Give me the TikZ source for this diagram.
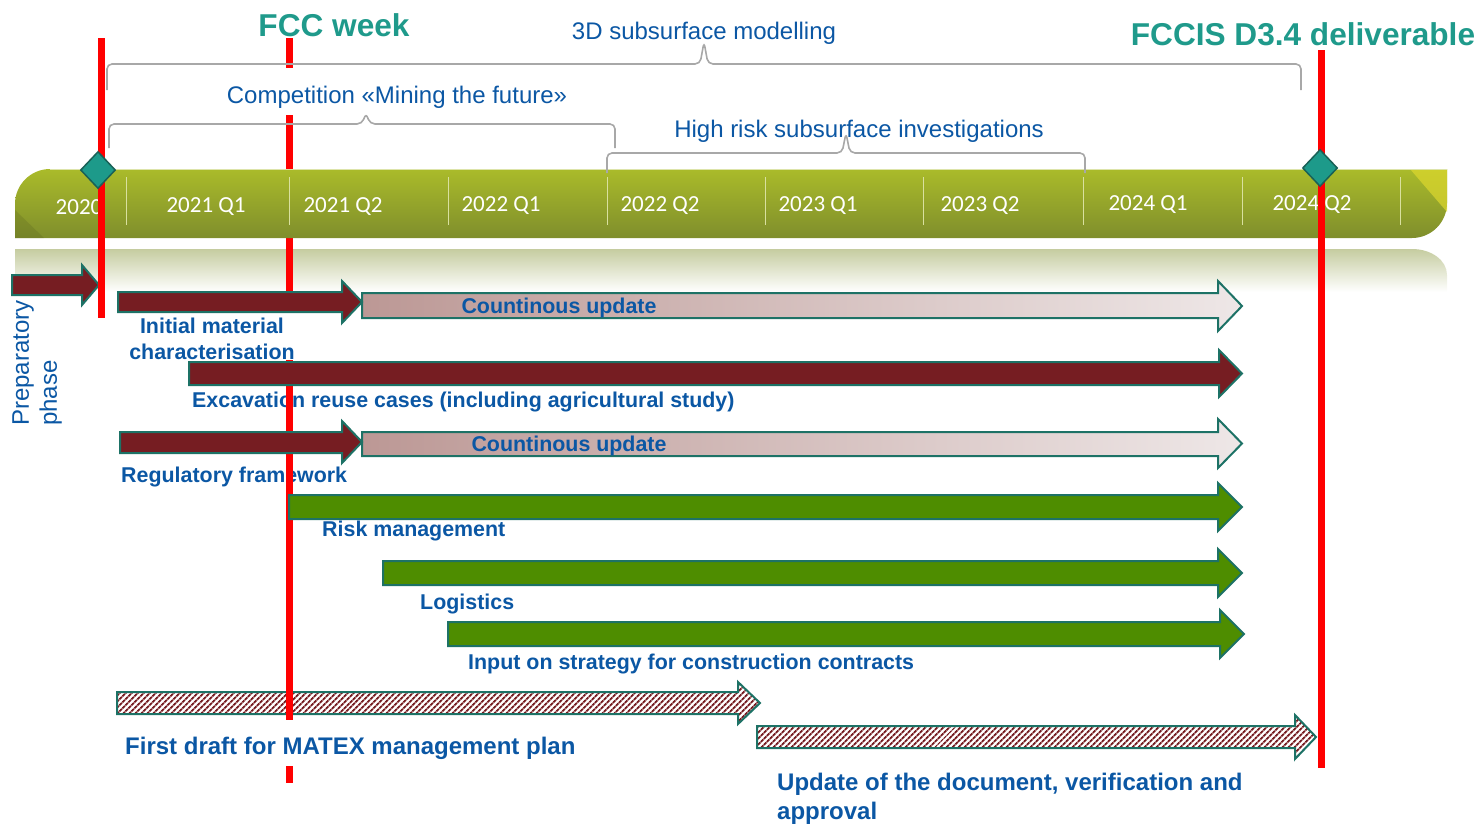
\documentclass[tikz,border=0pt]{standalone}
\usepackage{fontspec}
\setmainfont{Liberation Sans}
\newfontfamily\qfont{Carlito}
\usetikzlibrary{shapes.geometric, arrows, positioning, patterns.meta}

\definecolor{labblue}{HTML}{0B57A4}
\definecolor{titleteal}{HTML}{1F9A8B}
\definecolor{barred}{HTML}{761D22}
\definecolor{bargreen}{HTML}{4E8D00}
\definecolor{edgeteal}{HTML}{1D7266}
\definecolor{bracegray}{HTML}{A8A8A8}
\definecolor{olivetop}{HTML}{AABB2A}
\definecolor{olivebot}{HTML}{7F8E2C}
\definecolor{updleft}{HTML}{BC9895}
\definecolor{updright}{HTML}{EEE7E7}
\definecolor{milefill}{HTML}{1D9A8A}

\begin{document}
\begin{tikzpicture}[x=1pt,y=-1pt]
		\tikzstyle{qlabel} = [text=white, inner sep=0pt, font=\qfont\fontsize{23}{26}\selectfont]
		\tikzstyle{title} = [text=titleteal, inner sep=0pt, font=\bfseries\fontsize{31.6}{36}\selectfont]
		\tikzstyle{bracelab} = [text=labblue, inner sep=0pt, font=\fontsize{24}{28}\selectfont]
		\tikzstyle{tasklab} = [text=labblue, inner sep=0pt, anchor=west, font=\bfseries\fontsize{21.4}{25.5}\selectfont]
		\tikzstyle{biglab} = [text=labblue, inner sep=0pt, anchor=west, align=left, font=\bfseries\fontsize{24}{29}\selectfont]
		\tikzstyle{brace} = [draw=bracegray, line width=1.6pt, rounded corners=5pt]
		\tikzstyle{redline} = [red, line width=7pt]
		\tikzstyle{redarrow} = [fill=barred, draw=edgeteal, line width=2pt]
		\tikzstyle{greenarrow} = [fill=bargreen, draw=edgeteal, line width=2pt]
		\tikzstyle{updarrow} = [left color=updleft, right color=updright, draw=edgeteal, line width=2pt]
		\tikzstyle{hatcharrow} = [pattern={Lines[angle=45, distance=4pt, line width=2pt]}, pattern color=barred, draw=edgeteal, line width=2pt]
		\tikzstyle{milestone} = [diamond, minimum width=35pt, minimum height=37pt, inner sep=0pt, fill=milefill, draw=edgeteal!85!black, line width=1.5pt]
		
		\useasboundingbox (0,0) rectangle (1479,833);
		
		% titles and brace labels
		\node (fcc) [title] at (334,25) {FCC week};
		\node (fccis) [title] at (1303,34) {FCCIS D3.4 deliverable};
		\node (model) [bracelab] at (704,33) {3D subsurface modelling};
		\node (compet) [bracelab] at (397,97) {Competition «Mining the future»};
		\node (highrisk) [bracelab] at (859,131) {High risk subsurface investigations};
		
		% task labels
		\node (prep) [text=labblue, inner sep=0pt, anchor=west, rotate=90, align=left, font=\fontsize{24}{28}\selectfont] at (37,426) {Preparatory\\phase};
		\node (initial) [tasklab, anchor=center, align=center] at (212,339) {Initial material\\characterisation};
		\node (excav) [tasklab] at (192,402) {Excavation reuse cases (including agricultural study)};
		\node (regul) [tasklab] at (121,477) {Regulatory framework};
		\node (risk) [tasklab] at (322,531) {Risk management};
		\node (logist) [tasklab] at (420,604) {Logistics};
		\node (input) [tasklab] at (468,664) {Input on strategy for construction contracts};
		\node (draft) [biglab] at (125,748) {First draft for MATEX management plan};
		\node (update) [biglab] at (777,799) {Update of the document, verification and\\approval};
		
		% hatched arrows
		\draw [hatcharrow] (117,692) -- (738,692) -- (738,682) -- (760,703) -- (738,724) -- (738,714) -- (117,714) -- cycle;
		\draw [hatcharrow] (757,726) -- (1295,726) -- (1295,715) -- (1316,737) -- (1295,759) -- (1295,748) -- (757,748) -- cycle;
		
		% reflection
		\shade [top color=olivebot!45!white, bottom color=white] (15,249) -- (1412,249) .. controls (1431,249) and (1447,260) .. (1447,275) -- (1447,292) -- (15,292) -- cycle;
		
		% FCC week line
		\draw [redline] (289,38) -- (289,68);
		\draw [redline] (289,115) -- (289,300);
		\draw [redline] (289,360) -- (289,720);
		\draw [redline] (289,766) -- (289,783);
		
		% timeline
		\shade [top color=olivetop, bottom color=olivebot] (15,238) -- (15,204) .. controls (15,184.7) and (30.7,169) .. (50,169) -- (1447,169) -- (1447,203) .. controls (1447,222.3) and (1431.3,238) .. (1412,238) -- cycle;
		\fill [olivebot!70!black, opacity=0.25] (15,238) -- (15,210) -- (44,238) -- cycle;
		\fill [yellow!55!olivetop, opacity=0.7] (1410,169) -- (1447,169) -- (1447,212) -- cycle;
		\draw [white!60!olivetop, line width=1.5pt] (50,169.5) -- (1447,169.5);
		\foreach \x in {126,289,448,607,765,923,1083,1242,1400}
			\draw [white!55!olivetop, line width=1pt] (\x,177) -- (\x,225);
		
		\node (q0) [qlabel] at (79,207) {2020};
		\node (q1) [qlabel] at (206,207) {2021 Q1};
		\node (q2) [qlabel] at (343,207) {2021 Q2};
		\node (q3) [qlabel] at (501,206) {2022 Q1};
		\node (q4) [qlabel] at (660,206) {2022 Q2};
		\node (q5) [qlabel] at (818,206) {2023 Q1};
		\node (q6) [qlabel] at (980,206) {2023 Q2};
		\node (q7) [qlabel] at (1148,205) {2024 Q1};
		\node (q8) [qlabel] at (1312,205) {2024 Q2};
		
		% braces
		\draw [brace] (107,90) -- (107,64) -- (700,64) -- (704,42) -- (708,64) -- (1301,64) -- (1301,90);
		\draw [brace] (109,148) -- (109,124) -- (362,124) -- (366,113) -- (370,124) -- (615,124) -- (615,148);
		\draw [brace] (607,173) -- (607,153) -- (842,153) -- (846,133) -- (850,153) -- (1085,153) -- (1085,173);
		
		% preparatory arrow
		\draw [redarrow] (12,275) -- (82,275) -- (82,265) -- (99,285) -- (82,305) -- (82,295) -- (12,295) -- cycle;
		
		% start and deliverable lines
		\draw [redline] (101,38) -- (101,318);
		\draw [redline] (1321,50) -- (1321,768);
		
		% task arrows
		\draw [updarrow] (362,293) -- (1218,293) -- (1218,281) -- (1242,306) -- (1218,331) -- (1218,318) -- (362,318) -- cycle;
		\node (cont1) [text=labblue, font=\bfseries\fontsize{21.4}{25}\selectfont, inner sep=0pt] at (559,308) {Countinous update};
		\draw [redarrow] (118,292) -- (342,292) -- (342,281) -- (362,302) -- (342,323) -- (342,312) -- (118,312) -- cycle;
		
		\draw [redarrow] (189,362) -- (1219,362) -- (1219,350) -- (1242,373.5) -- (1219,397) -- (1219,385) -- (189,385) -- cycle;
		
		\draw [updarrow] (362,432) -- (1218,432) -- (1218,419) -- (1242,443.5) -- (1218,468) -- (1218,456) -- (362,456) -- cycle;
		\node (cont2) [text=labblue, font=\bfseries\fontsize{21.4}{25}\selectfont, inner sep=0pt] at (569,446) {Countinous update};
		\draw [redarrow] (120,432) -- (342,432) -- (342,421) -- (362,442) -- (342,463) -- (342,453) -- (120,453) -- cycle;
		
		\draw [greenarrow] (289,495) -- (1218,495) -- (1218,483) -- (1242,507) -- (1218,531) -- (1218,519) -- (289,519) -- cycle;
		\draw [greenarrow] (383,561) -- (1218,561) -- (1218,549) -- (1242,573) -- (1218,597) -- (1218,585) -- (383,585) -- cycle;
		\draw [greenarrow] (448,622) -- (1220,622) -- (1220,610) -- (1244,634) -- (1220,658) -- (1220,646) -- (448,646) -- cycle;
		
		% milestones
		\node (m1) [milestone] at (98,170) {};
		\node (m2) [milestone] at (1320,168) {};
\end{tikzpicture}
\end{document}
